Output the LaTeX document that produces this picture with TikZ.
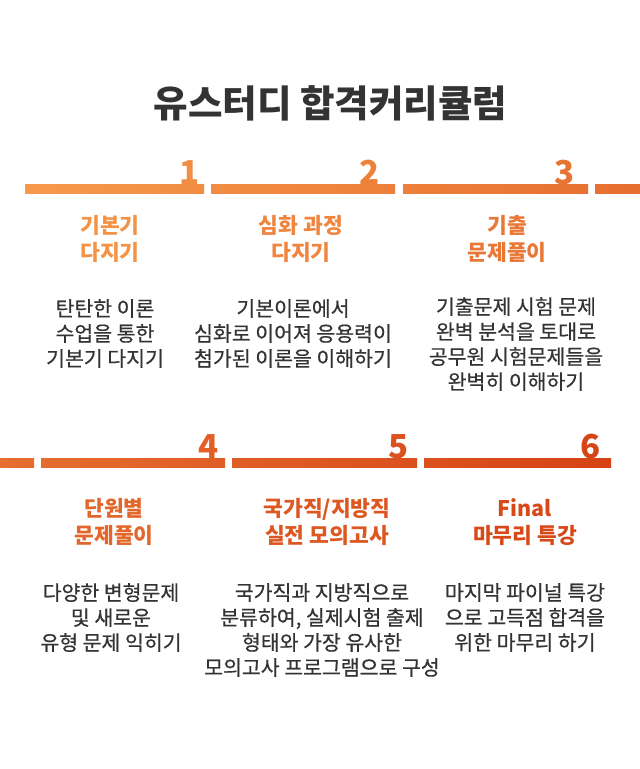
\documentclass[tikz,border=0pt]{standalone}
\usepackage{fontspec}
\setmainfont{Noto Sans CJK KR}
\newfontfamily\bonmun[FakeBold=0.5]{Noto Sans CJK KR}
\begin{document}
\begin{tikzpicture}[x=1pt,y=-1pt,
	jemok/.style={text=geomeun,font=\fontsize{37.5}{42}\selectfont\bfseries,anchor=north,inner sep=0pt},
	soje/.style={font=\fontsize{21.5}{27}\selectfont\bfseries,align=center,anchor=north,inner sep=0pt},
	naeyong/.style={text=geomeun,font=\bonmun\fontsize{20.5}{25}\selectfont,align=center,anchor=north,inner sep=0pt},
	beonho/.style={font=\fontsize{33}{33}\selectfont\bfseries,anchor=base east,inner sep=0pt}]
	\definecolor{juhwang}{RGB}{247,155,75}
	\definecolor{ppalgang}{RGB}{213,65,20}
	\definecolor{geomeun}{RGB}{51,51,51}
	
	\useasboundingbox (0,0) rectangle (640,769);
	\node[jemok] (jemok) at (330.5,85) {유스터디 합격커리큘럼};
	
	%막대
	\shade[left color=ppalgang!2!juhwang,right color=ppalgang!16!juhwang] (25,184) rectangle (204,193);
	\shade[left color=ppalgang!16!juhwang,right color=ppalgang!31!juhwang] (211,184) rectangle (395,193);
	\shade[left color=ppalgang!31!juhwang,right color=ppalgang!46!juhwang] (403,184) rectangle (588,193);
	\shade[left color=ppalgang!46!juhwang,right color=ppalgang!50!juhwang] (595,184) rectangle (640,193);
	\shade[left color=ppalgang!50!juhwang,right color=ppalgang!53!juhwang] (0,458) rectangle (34,467);
	\shade[left color=ppalgang!53!juhwang,right color=ppalgang!68!juhwang] (41,458) rectangle (225,467);
	\shade[left color=ppalgang!68!juhwang,right color=ppalgang!83!juhwang] (232,458) rectangle (417,467);
	\shade[left color=ppalgang!83!juhwang,right color=ppalgang!98!juhwang] (424,458) rectangle (611,467);
	
	%번호
	\node[beonho,text=ppalgang!15!juhwang] (beonho1) at (200,184) {1};
	\node[beonho,text=ppalgang!29!juhwang] (beonho2) at (380,184) {2};
	\node[beonho,text=ppalgang!44!juhwang] (beonho3) at (575,184) {3};
	\node[beonho,text=ppalgang!66!juhwang] (beonho4) at (219,458) {4};
	\node[beonho,text=ppalgang!81!juhwang] (beonho5) at (409,458) {5};
	\node[beonho,text=ppalgang!96!juhwang] (beonho6) at (601,458) {6};
	
	%첫째 줄
	\node[soje,text=ppalgang!9!juhwang] (soje1) at (110,215) {기본기\\다지기};
	\node[soje,text=ppalgang!24!juhwang] (soje2) at (301,215) {심화 과정\\다지기};
	\node[soje,text=ppalgang!40!juhwang] (soje3) at (507,215) {기출\\문제풀이};
	\node[naeyong] (naeyong1) at (105,299) {탄탄한 이론\\수업을 통한\\기본기 다지기};
	\node[naeyong] (naeyong2) at (293,299) {기본이론에서\\심화로 이어져 응용력이\\첨가된 이론을 이해하기};
	\node[naeyong] (naeyong3) at (516,297) {기출문제 시험 문제\\완벽 분석을 토대로\\공무원 시험문제들을\\완벽히 이해하기};
	
	%둘째 줄
	\node[soje,text=ppalgang!59!juhwang] (soje4) at (114,498) {단원별\\문제풀이};
	\node[soje,text=ppalgang!76!juhwang] (soje5) at (327,498) {국가직/지방직\\실전 모의고사};
	\node[soje,text=ppalgang!91!juhwang] (soje6) at (525,498) {Final\\마무리 특강};
	\node[naeyong] (naeyong4) at (111,583) {다양한 변형문제\\및 새로운\\유형 문제 익히기};
	\node[naeyong] (naeyong5) at (322,583) {국가직과 지방직으로\\분류하여, 실제시험 출제\\형태와 가장 유사한\\모의고사 프로그램으로 구성};
	\node[naeyong] (naeyong6) at (525,583) {마지막 파이널 특강\\으로 고득점 합격을\\위한 마무리 하기};
\end{tikzpicture}
\end{document}
